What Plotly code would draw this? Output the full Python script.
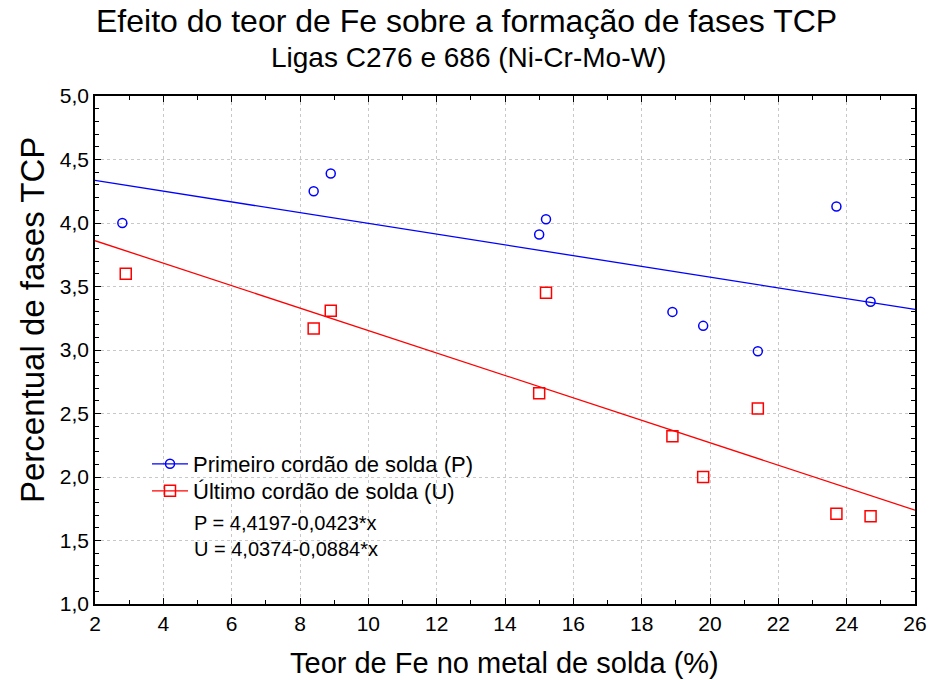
import plotly.graph_objects as go

# Data
fe_p = [2.8, 8.4, 8.9, 15.0, 15.2, 18.9, 19.8, 21.4, 23.7, 24.7]
tcp_p = [4.00, 4.25, 4.39, 3.91, 4.03, 3.30, 3.19, 2.99, 4.13, 3.38]
fe_u = [2.9, 8.4, 8.9, 15.0, 15.2, 18.9, 19.8, 21.4, 23.7, 24.7]
tcp_u = [3.60, 3.17, 3.31, 2.66, 3.45, 2.32, 2.00, 2.54, 1.71, 1.69]

# regression coefficients shown on chart
coef_p = [4.4197, -0.0423]
coef_u = [4.0374, -0.0884]
fit_x = [2, 26]

blue = "#0000ff"
red = "#ff0000"
FONT = "Liberation Sans, Arial, sans-serif"

L, R, T, B = 95, 16, 96, 76
PW = 931 - L - R
PH = 680 - T - B


def px_x(p):
    return (p - L) / PW


def px_y(p):
    return (680 - B - p) / PH


fig = go.Figure()
fig.add_trace(go.Scatter(x=fit_x, y=[coef_p[0] + coef_p[1] * v for v in fit_x], mode="lines",
                         line=dict(color=blue, width=1.3), showlegend=False, hoverinfo="skip"))
fig.add_trace(go.Scatter(x=fit_x, y=[coef_u[0] + coef_u[1] * v for v in fit_x], mode="lines",
                         line=dict(color=red, width=1.3), showlegend=False, hoverinfo="skip"))
fig.add_trace(go.Scatter(x=fe_p, y=tcp_p, mode="markers", showlegend=False,
                         marker=dict(symbol="circle-open", size=9, color=blue, line=dict(width=1.5))))
fig.add_trace(go.Scatter(x=fe_u, y=tcp_u, mode="markers", showlegend=False,
                         marker=dict(symbol="square-open", size=11, color=red, line=dict(width=1.5))))
# legend entries
fig.add_trace(go.Scatter(x=[None], y=[None], mode="lines+markers", name="Primeiro cordão de solda (P)",
                         line=dict(color=blue, width=1.3), legend="legend",
                         marker=dict(symbol="circle-open", size=9, color=blue, line=dict(width=1.5))))
fig.add_trace(go.Scatter(x=[None], y=[None], mode="lines+markers", name="Último cordão de solda (U)",
                         line=dict(color=red, width=1.3), legend="legend2",
                         marker=dict(symbol="square-open", size=11, color=red, line=dict(width=1.5))))

leg_common = dict(xanchor="left", yanchor="top", bgcolor="rgba(0,0,0,0)",
                  font=dict(size=22, family=FONT), itemwidth=36, tracegroupgap=0)

fig.update_layout(
    width=931, height=680,
    margin=dict(l=L, r=R, t=T, b=B),
    paper_bgcolor="white", plot_bgcolor="white",
    separators=", ",
    font=dict(family=FONT, color="black"),
    showlegend=True,
    legend=dict(x=px_x(147), y=px_y(443), **leg_common),
    legend2=dict(x=px_x(147), y=px_y(470), **leg_common),
)

axis_common = dict(showline=True, linecolor="black", linewidth=1.5, mirror="ticks",
                   ticks="inside", ticklen=6, tickcolor="black",
                   showgrid=True, gridcolor="#c8c8c8", griddash="dot", gridwidth=1,
                   zeroline=False, automargin=False,
                   tickfont=dict(family=FONT, size=21, color="black"))

fig.update_xaxes(range=[2, 26], dtick=2, tick0=2,
                 minor=dict(ticks="inside", dtick=1, ticklen=4, tickcolor="black", showgrid=False),
                 **axis_common)
fig.update_yaxes(range=[1, 5], dtick=0.5, tick0=1, tickformat=".1f",
                 minor=dict(ticks="inside", dtick=0.1, ticklen=4, tickcolor="black", showgrid=False),
                 **axis_common)

# axis titles
fig.add_annotation(text="Teor de Fe no metal de solda (%)", xref="paper", yref="paper",
                   x=px_x(504), y=px_y(663), xanchor="center", yanchor="middle", showarrow=False,
                   font=dict(size=29, family=FONT))
fig.add_annotation(text="Percentual de fases TCP", xref="paper", yref="paper", textangle=-90,
                   x=px_x(32), y=px_y(320), xanchor="center", yanchor="middle", showarrow=False,
                   font=dict(size=33, family=FONT))

# titles
fig.add_annotation(text="Efeito do teor de Fe sobre a formação de fases TCP", xref="paper", yref="paper",
                   x=px_x(466), y=px_y(21), xanchor="center", yanchor="middle", showarrow=False,
                   font=dict(size=32, family=FONT))
fig.add_annotation(text="Ligas C276 e 686 (Ni-Cr-Mo-W)", xref="paper", yref="paper",
                   x=px_x(468), y=px_y(58), xanchor="center", yanchor="middle", showarrow=False,
                   font=dict(size=28, family=FONT))

# equations
fig.add_annotation(text="P = 4,4197-0,0423*x", xref="paper", yref="paper",
                   x=px_x(192), y=px_y(523), xanchor="left", yanchor="middle",
                   showarrow=False, font=dict(size=20, family=FONT))
fig.add_annotation(text="U = 4,0374-0,0884*x", xref="paper", yref="paper",
                   x=px_x(192), y=px_y(549), xanchor="left", yanchor="middle",
                   showarrow=False, font=dict(size=20, family=FONT))

fig.write_html("out.html")
